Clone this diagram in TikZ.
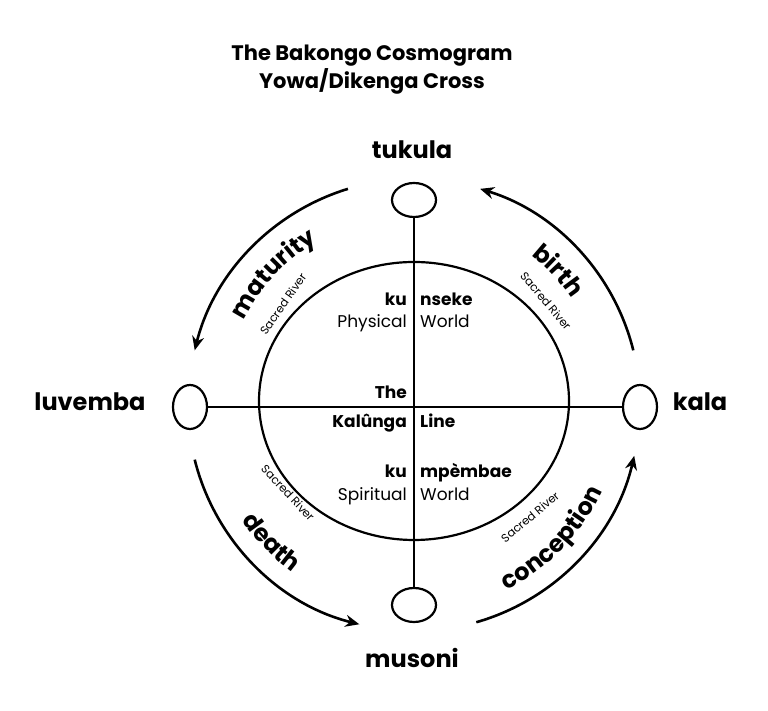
\documentclass[tikz,border=0pt]{standalone}
\usepackage{fontspec}
\setmainfont{Poppins}
\usetikzlibrary{arrows.meta,decorations.text,shapes.geometric}
\begin{document}
\begin{tikzpicture}[x=1pt,y=1pt,
  ln/.style={line width=2.2pt},
  arr/.style={line width=2.6pt,-{Stealth[length=14pt,width=12pt]}},
  sm/.style={ellipse,draw,line width=2.2pt,fill=white,inner sep=0pt},
  big/.style={font=\bfseries\fontsize{24}{26}\selectfont},
  inl/.style={font=\fontsize{17}{19}\selectfont,inner sep=0pt},
  inb/.style={font=\bfseries\fontsize{17}{19}\selectfont,inner sep=0pt},
  sr/.style={font=\fontsize{11.5}{13}\selectfont,inner sep=0pt}]
\useasboundingbox (0,0) rectangle (768,711);
\coordinate (C) at (414,306);
\node[font=\bfseries\fontsize{21}{28}\selectfont,align=center] (title) at (372,641) {The Bakongo Cosmogram\\Yowa/Dikenga Cross};
% big ellipse
\draw[ln] (414,310) ellipse [x radius=155, y radius=139];
% cross
\draw[ln] (414,510) coordinate (vt) -- (414,106) coordinate (vb);
\draw[ln] (190,304) coordinate (hl) -- (640,304) coordinate (hr);
\node[sm,minimum width=44pt,minimum height=34pt] (top) at (414,511) {};
\node[sm,minimum width=44pt,minimum height=34pt] (bot) at (414,106) {};
\node[sm,minimum width=34pt,minimum height=44pt] (lft) at (190,304) {};
\node[sm,minimum width=34pt,minimum height=44pt] (rgt) at (640,304) {};
% labels
\node[big] (tukula) at (412,561) {tukula};
\node[big] (musoni) at (412,53) {musoni};
\node[big] (luvemba) at (90,309) {luvemba};
\node[big] (kala) at (700,309) {kala};
% arrows
\draw[arr] ([shift={(14:226)}]C) arc[start angle=14,end angle=73,radius=226];
\draw[arr] ([shift={(107:226)}]C) arc[start angle=107,end angle=166,radius=226];
\draw[arr] ([shift={(194:226)}]C) arc[start angle=194,end angle=256,radius=226];
\draw[arr] ([shift={(286:226)}]C) arc[start angle=286,end angle=347,radius=226];
% arc texts
\path[decorate,decoration={text along path,text align=center,text={|\bfseries\fontsize{24}{26}\selectfont|maturity}}]
  ([shift={(168:190)}]C) arc[start angle=168,end angle=106,radius=190];
\path[decorate,decoration={text along path,text align=center,text={|\bfseries\fontsize{24}{26}\selectfont|birth}}]
  ([shift={(74:190)}]C) arc[start angle=74,end angle=12,radius=190];
\path[decorate,decoration={text along path,text align=center,text={|\bfseries\fontsize{24}{26}\selectfont|death}}]
  ([shift={(190:207)}]C) arc[start angle=190,end angle=258,radius=207];
\path[decorate,decoration={text along path,text align=center,text={|\bfseries\fontsize{24}{26}\selectfont|conception}}]
  ([shift={(280:207)}]C) arc[start angle=280,end angle=352,radius=207];
% sacred river
\node[sr,rotate=55] (sr1) at (283,407) {Sacred River};
\node[sr,rotate=-50] (sr2) at (546,410) {Sacred River};
\node[sr,rotate=-47] (sr3) at (288,218) {Sacred River};
\node[sr,rotate=40] (sr4) at (530,194) {Sacred River};
% inner
\node[inb,anchor=base east] (ku1) at (407,405) {ku};
\node[inb,anchor=base west] (ns) at (420,405) {nseke};
\node[inl,anchor=base east] (ph) at (407,383) {Physical};
\node[inl,anchor=base west] (w1) at (420,383) {World};
\node[inb,anchor=base east] (the) at (407,312) {The};
\node[inb,anchor=base east] (kal) at (407,283) {Kalûnga};
\node[inb,anchor=base west] (line) at (420,283) {Line};
\node[inb,anchor=base east] (ku2) at (407,233) {ku};
\node[inb,anchor=base west] (mp) at (420,233) {mpèmbae};
\node[inl,anchor=base east] (sp) at (407,210) {Spiritual};
\node[inl,anchor=base west] (w2) at (420,210) {World};
\end{tikzpicture}
\end{document}
